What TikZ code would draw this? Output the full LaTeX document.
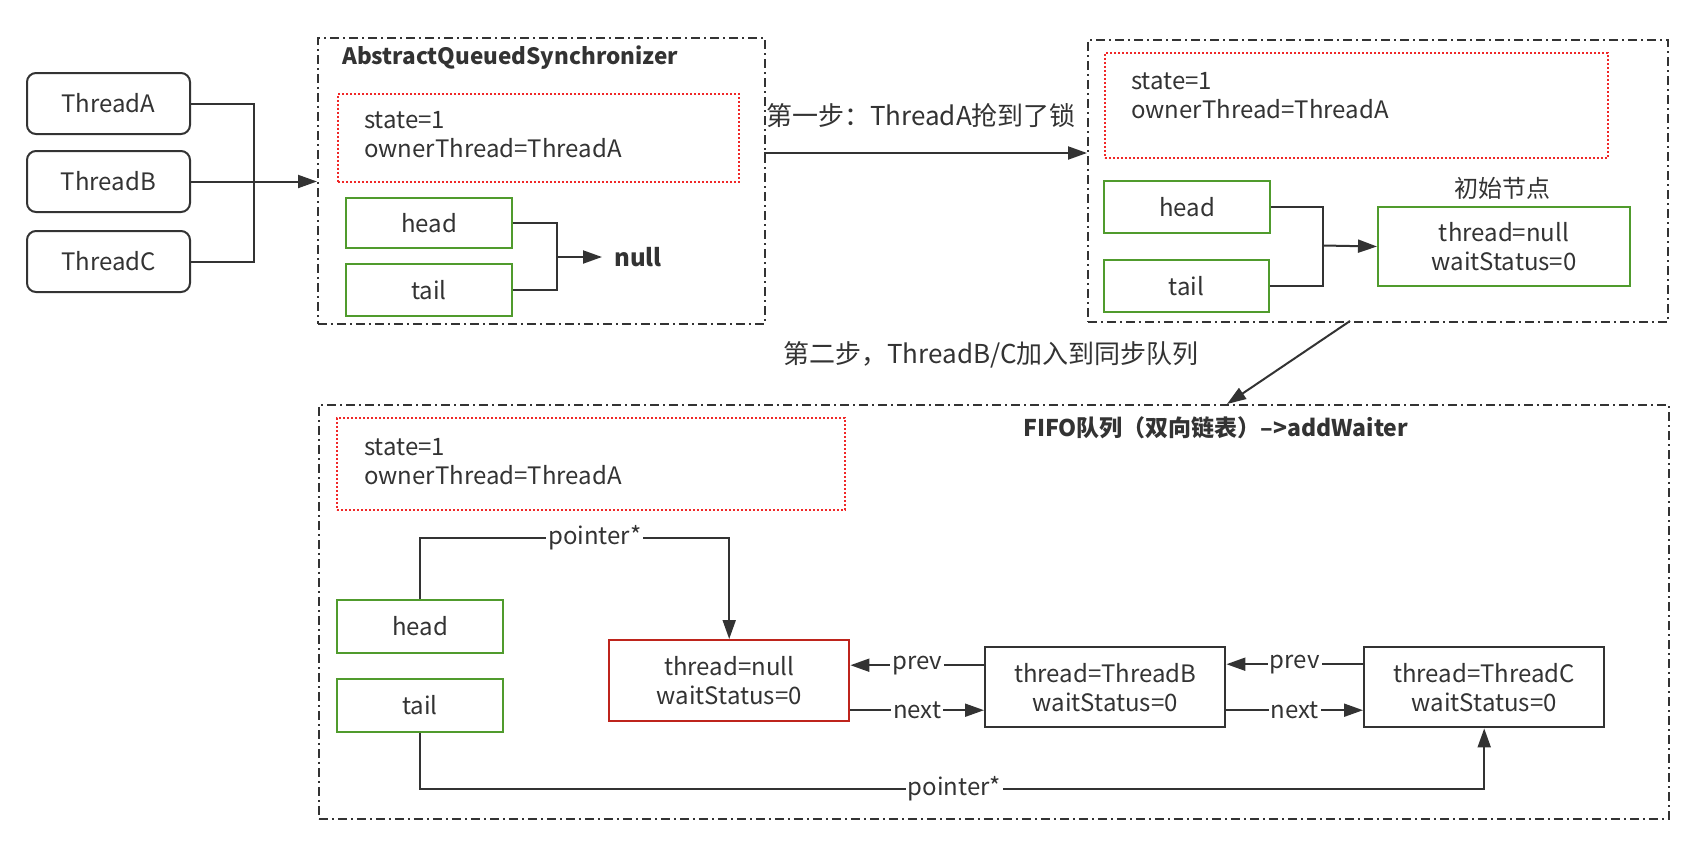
\documentclass[tikz,border=0pt]{standalone}
\usepackage{fontspec}
\setmainfont{Noto Sans CJK SC}
\usetikzlibrary{arrows.meta}
\definecolor{ink}{RGB}{51,51,51}
\definecolor{gbox}{RGB}{80,155,45}
\definecolor{rbox}{RGB}{190,36,28}
\definecolor{rdot}{RGB}{240,40,40}
\begin{document}
\begin{tikzpicture}[x=1pt,y=-1pt,
  every node/.style={font=\fontsize{24}{29}\selectfont, text=ink, inner sep=0pt},
  big/.style={font=\fontsize{26}{30}\selectfont},
  frame/.style={draw=ink, line width=1.6pt, dash pattern=on 9pt off 4pt on 2pt off 4pt, anchor=north west},
  dotbox/.style={draw=rdot, line width=1.7pt, dash pattern=on 1.7pt off 2.3pt, anchor=north west},
  thr/.style={draw=ink, line width=2pt, rounded corners=9pt, anchor=north west},
  gbx/.style={draw=gbox, line width=2pt, anchor=north west, align=center},
  rbx/.style={draw=rbox, line width=2.4pt, anchor=north west, align=center},
  kbx/.style={draw=ink, line width=2.4pt, anchor=north west, align=center},
  txt/.style={align=left, anchor=west},
  ttl/.style={font=\bfseries\fontsize{22.5}{27}\selectfont, anchor=west},
  con/.style={draw=ink, line width=2pt},
  arr/.style={con, -{Triangle[length=19pt,width=13pt]}},
  lab/.style={fill=white, inner xsep=2pt, inner ysep=1pt}
]
\useasboundingbox (0,0) rectangle (1702,852);

% threads
\node[thr, minimum width=163pt, minimum height=61pt] (tA) at (26,72) {ThreadA};
\node[thr, minimum width=163pt, minimum height=61pt] (tB) at (26,150) {ThreadB};
\node[thr, minimum width=163pt, minimum height=61pt] (tC) at (26,230) {ThreadC};

% AQS frame
\node[frame, minimum width=447pt, minimum height=286pt] (aqs) at (317,37) {};
\node[ttl] (aqsT) at (342,58) {AbstractQueuedSynchronizer};
\node[dotbox, minimum width=401pt, minimum height=88pt] (st1) at (337,93) {};
\node[txt] (st1t) at (364,135) {state=1\\ownerThread=ThreadA};
\node[gbx, minimum width=166pt, minimum height=50pt] (h1) at (345,197) {head};
\node[gbx, minimum width=166pt, minimum height=52pt] (t1) at (345,263) {tail};
\node[font=\bfseries\fontsize{24}{29}\selectfont, anchor=west] (nul) at (614,257) {null};

\coordinate (j1) at (254,181);
\draw[con] (tA.east) -| (j1);
\draw[con] (tC.east) -| (j1);
\draw[arr] (tB.east) -- (tB.east -| aqs.west);

\coordinate (j2) at (557,257);
\draw[con] (h1.east) -| (j2);
\draw[con] (t1.east) -| (j2);
\draw[arr, shorten >=12pt] (j2) -- (j2 -| nul.west);

% second frame
\node[frame, minimum width=580pt, minimum height=282pt] (box2) at (1087,39) {};
\node[dotbox, minimum width=503pt, minimum height=105pt] (st2) at (1104,52) {};
\node[txt] (st2t) at (1131,96) {state=1\\ownerThread=ThreadA};
\node[gbx, minimum width=166pt, minimum height=52pt] (h2) at (1103,180) {head};
\node[gbx, minimum width=165pt, minimum height=52pt] (t2) at (1103,259) {tail};
\node[gbx, minimum width=252pt, minimum height=79pt] (ini) at (1377,206) {thread=null\\waitStatus=0};
\node (iniL) at (1502,188) {初始节点};

\coordinate (j3) at (1323,245.5);
\draw[con] (h2.east) -| (j3);
\draw[con] (t2.east) -| (j3);
\draw[arr] (j3) -- (ini.west);

% step 1
\coordinate (s1) at (764,153);
\draw[arr] (s1) -- (s1 -| box2.west);
\node[big] (step1) at (921,116) {第一步：ThreadA抢到了锁};

% step 2
\node[big] (step2) at (991,355) {第二步，ThreadB/C加入到同步队列};

% third frame
\node[frame, minimum width=1350pt, minimum height=414pt] (box3) at (318,404) {};
\node[ttl, font=\bfseries\fontsize{23}{27}\selectfont] (fifo) at (1023,428) {FIFO队列（双向链表）–>addWaiter};
\node[dotbox, minimum width=508pt, minimum height=92pt] (st3) at (336,417) {};
\node[txt] (st3t) at (364,462) {state=1\\ownerThread=ThreadA};
\node[gbx, minimum width=166pt, minimum height=53pt] (h3) at (336,599) {head};
\node[gbx, minimum width=166pt, minimum height=53pt] (t3) at (336,678) {tail};
\node[rbx, minimum width=240pt, minimum height=81pt] (n3) at (608,639) {thread=null\\waitStatus=0};
\node[kbx, minimum width=240pt, minimum height=80pt] (b3) at (984,646) {thread=ThreadB\\waitStatus=0};
\node[kbx, minimum width=240pt, minimum height=80pt] (c3) at (1363,646) {thread=ThreadC\\waitStatus=0};

\coordinate (d1) at (1350,321);
\coordinate (d2) at (1227,404);
\draw[arr] (d1) -- (d2);

% pointers
\coordinate (p1) at (h3.north |- 0,538);
\coordinate (p2) at (n3.north |- 0,538);
\draw[arr] (h3.north) -- (p1) -- node[lab, pos=0.565] {pointer*} (p2) -- (n3.north);
\coordinate (q1) at (t3.south |- 0,789);
\coordinate (q2) at (c3.south |- 0,789);
\draw[arr] (t3.south) -- (q1) -- node[lab, pos=0.502] {pointer*} (q2) -- (c3.south);

% prev / next
\coordinate (pv1) at ([yshift=22pt]b3.west);
\coordinate (nx1) at ([yshift=-23pt]b3.west);
\draw[arr] (pv1) -- node[lab] {prev} (pv1 -| n3.east);
\draw[arr] (nx1 -| n3.east) -- node[lab] {next} (nx1);
\coordinate (pv2) at ([yshift=23pt]c3.west);
\coordinate (nx2) at ([yshift=-23pt]c3.west);
\draw[arr] (pv2) -- node[lab] {prev} (pv2 -| b3.east);
\draw[arr] (nx2 -| b3.east) -- node[lab] {next} (nx2);
\end{tikzpicture}
\end{document}
